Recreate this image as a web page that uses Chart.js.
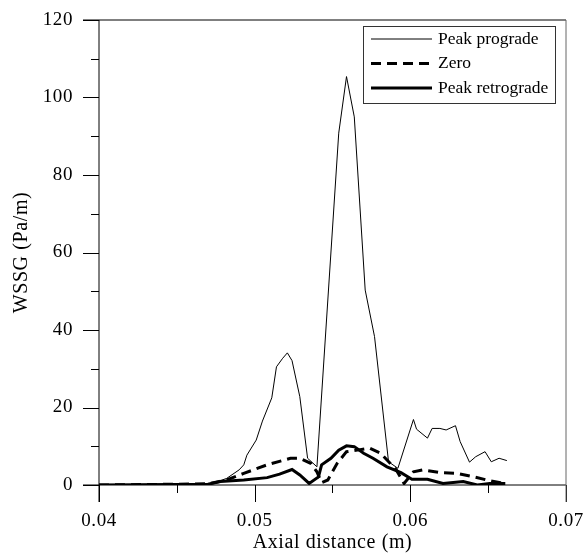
<!DOCTYPE html>
<html lang="en">

<head>
    <meta charset="UTF-8">
    <title>WSSG along axial distance</title>
    <script src="https://cdn.jsdelivr.net/npm/chart.js@4/dist/chart.umd.min.js"></script>
    <style>
        body {
            margin: 0;
            background-color: white;
        }

        .chart-box {
            width: 583px;
            height: 555px;
        }
    </style>
</head>

<body>
    <div class="chart-box">
        <canvas id="wssg-chart" width="583" height="555"></canvas>
    </div>

    <script>
        // Axial positions (m) and WSSG values (Pa/m) for each phase
        const progradeX = [0.040, 0.0472, 0.0482, 0.0490, 0.0493, 0.0495, 0.0501, 0.0505, 0.0511, 0.0514, 0.0518, 0.0521,
            0.0524, 0.0529, 0.0534, 0.0540, 0.0554, 0.0559, 0.0564, 0.0571, 0.0577, 0.0586, 0.0592, 0.0602,
            0.0604, 0.0611, 0.0614, 0.0619, 0.0623, 0.0629, 0.0632, 0.0638, 0.0642, 0.0648, 0.0652, 0.0657, 0.0662];
        const progradeY = [0, 0.3, 1.7, 3.9, 5.2, 7.7, 11.6, 16.5, 22.5, 30.5, 32.7, 34.1,
            32.1, 22.8, 6.9, 4.7, 90.8, 105.4, 95.0, 50.3, 38.3, 6.0, 4.3, 16.9,
            14.4, 12.1, 14.6, 14.6, 14.2, 15.3, 11.2, 5.9, 7.3, 8.6, 6.0, 6.9, 6.3];

        const zeroX = [0.040, 0.0470, 0.0482, 0.0493, 0.0508, 0.0523, 0.0529, 0.0536, 0.0540, 0.0543, 0.0547, 0.0553,
            0.0559, 0.0566, 0.0574, 0.0581, 0.0587, 0.0591, 0.0596, 0.0602, 0.0608, 0.0619, 0.0630, 0.0641,
            0.0649, 0.0658, 0.0661];
        const zeroY = [0, 0.3, 1.3, 3.0, 5.2, 6.9, 6.9, 5.6, 3.4, 0.6, 1.3, 5.6,
            8.6, 9.0, 9.5, 8.2, 5.6, 3.9, 0.4, 3.4, 3.9, 3.2, 3.0, 2.1,
            1.3, 0.6, 0.4];

        const retroX = [0.040, 0.0470, 0.0478, 0.0493, 0.0508, 0.0516, 0.0524, 0.0529, 0.0535, 0.0541, 0.0543, 0.0549,
            0.0554, 0.0559, 0.0564, 0.0570, 0.0576, 0.0585, 0.0594, 0.0601, 0.0611, 0.0621, 0.0634, 0.0643,
            0.0651, 0.0661];
        const retroY = [0, 0.2, 0.9, 1.3, 1.9, 2.8, 4.0, 2.6, 0.4, 2.1, 5.2, 6.9,
            9.0, 10.1, 9.9, 8.2, 6.9, 4.7, 3.2, 1.5, 1.5, 0.4, 0.9, 0,
            0.4, 0.4];

        const seriesNames = ['Peak prograde', 'Zero', 'Peak retrograde'];

        const xTicks = [0.04, 0.05, 0.06, 0.07];
        const yTicks = [0, 20, 40, 60, 80, 100, 120];

        const serif = "'Liberation Serif', 'Times New Roman', serif";

        function toPoints(xs, ys) {
            return xs.map((x, i) => ({ x: x, y: ys[i] }));
        }

        // slightly open letter spacing for all text
        const spacingPlugin = {
            id: 'spacing',
            beforeDraw(chart) {
                chart.ctx.letterSpacing = '0.6px';
            }
        };

        // frame, inward/outward ticks and the boxed legend
        const framePlugin = {
            id: 'frame',
            afterDatasetsDraw(chart) {
                const ctx = chart.ctx;
                const xs = chart.scales.x;
                const ys = chart.scales.y;
                const a = chart.chartArea;
                ctx.save();
                ctx.lineWidth = 1;
                ctx.strokeStyle = '#000';
                ctx.beginPath();
                // left axis and bottom axis
                ctx.moveTo(a.left, a.top);
                ctx.lineTo(a.left, a.bottom + 17);
                ctx.moveTo(a.left - 16, a.bottom);
                ctx.lineTo(a.right, a.bottom);
                // top border
                ctx.moveTo(a.left - 16, a.top);
                ctx.lineTo(a.right, a.top);
                ctx.stroke();

                // y ticks: major every 20, minor between
                ctx.beginPath();
                for (let v = 0; v <= 120; v += 10) {
                    const py = Math.round(ys.getPixelForValue(v)) + 0.5;
                    const len = v % 20 === 0 ? 16 : 8;
                    ctx.moveTo(a.left - len, py);
                    ctx.lineTo(a.left, py);
                }
                // x ticks: major every 0.01, minor between
                for (let i = 0; i <= 6; i++) {
                    const v = 0.04 + i * 0.005;
                    const px = Math.round(xs.getPixelForValue(v)) + 0.5;
                    const len = i % 2 === 0 ? 17 : 8;
                    ctx.moveTo(px, a.bottom);
                    ctx.lineTo(px, a.bottom + len);
                }
                ctx.stroke();

                // right border, lighter
                ctx.strokeStyle = '#666';
                ctx.beginPath();
                ctx.moveTo(a.right, a.top);
                ctx.lineTo(a.right, a.bottom + 17);
                ctx.stroke();

                // legend box
                const bx = 363.5, by = 26.5, bw = 192, bh = 77;
                ctx.strokeStyle = '#333';
                ctx.fillStyle = '#fff';
                ctx.fillRect(bx, by, bw, bh);
                ctx.strokeRect(bx, by, bw, bh);
                ctx.letterSpacing = '0px';
                ctx.font = '17.5px ' + serif;
                ctx.textBaseline = 'middle';
                chart.data.datasets.forEach((ds, i) => {
                    const ly = 39 + i * 24.5;
                    ctx.strokeStyle = '#000';
                    ctx.lineWidth = ds.borderWidth;
                    ctx.setLineDash(ds.borderDash || []);
                    ctx.beginPath();
                    ctx.moveTo(371, ly);
                    ctx.lineTo(432, ly);
                    ctx.stroke();
                    ctx.setLineDash([]);
                    ctx.fillStyle = '#000';
                    ctx.fillText(ds.label, 438, ly);
                });
                ctx.restore();
            }
        };

        const ctx = document.getElementById('wssg-chart').getContext('2d');
        new Chart(ctx, {
            type: 'line',
            data: {
                datasets: [{
                    label: seriesNames[0],
                    data: toPoints(progradeX, progradeY),
                    borderColor: '#000',
                    borderWidth: 1,
                    pointRadius: 0,
                    tension: 0
                }, {
                    label: seriesNames[1],
                    data: toPoints(zeroX, zeroY),
                    borderColor: '#000',
                    borderWidth: 3,
                    borderDash: [10, 6],
                    pointRadius: 0,
                    tension: 0
                }, {
                    label: seriesNames[2],
                    data: toPoints(retroX, retroY),
                    borderColor: '#000',
                    borderWidth: 3,
                    pointRadius: 0,
                    tension: 0
                }]
            },
            options: {
                responsive: false,
                animation: false,
                layout: {
                    padding: { top: 20, right: 17, left: 0, bottom: 0 }
                },
                plugins: {
                    legend: { display: false },
                    tooltip: { enabled: false }
                },
                scales: {
                    x: {
                        type: 'linear',
                        min: 0.04,
                        max: 0.07,
                        afterBuildTicks: (scale) => {
                            scale.ticks = xTicks.map(v => ({ value: v }));
                        },
                        afterFit: (scale) => {
                            scale.height = 70;
                            scale.paddingLeft = 0;
                            scale.paddingRight = 0;
                        },
                        grid: { display: false },
                        border: { display: false },
                        ticks: {
                            padding: 17,
                            color: '#000',
                            font: { family: serif, size: 19 },
                            callback: (v) => v.toFixed(2)
                        },
                        title: {
                            display: true,
                            text: 'Axial distance (m)',
                            color: '#000',
                            font: { family: serif, size: 20 },
                            padding: { top: 0, bottom: 0 }
                        }
                    },
                    y: {
                        min: 0,
                        max: 120,
                        afterBuildTicks: (scale) => {
                            scale.ticks = yTicks.map(v => ({ value: v }));
                        },
                        afterFit: (scale) => {
                            scale.width = 99;
                            scale.paddingTop = 0;
                            scale.paddingBottom = 0;
                        },
                        grid: { display: false },
                        border: { display: false },
                        ticks: {
                            padding: 18,
                            color: '#000',
                            font: { family: serif, size: 19 }
                        },
                        title: {
                            display: true,
                            text: 'WSSG (Pa/m)',
                            color: '#000',
                            font: { family: serif, size: 20 },
                            padding: { top: 10, bottom: 0 }
                        }
                    }
                }
            },
            plugins: [spacingPlugin, framePlugin]
        });
    </script>
</body>

</html>
